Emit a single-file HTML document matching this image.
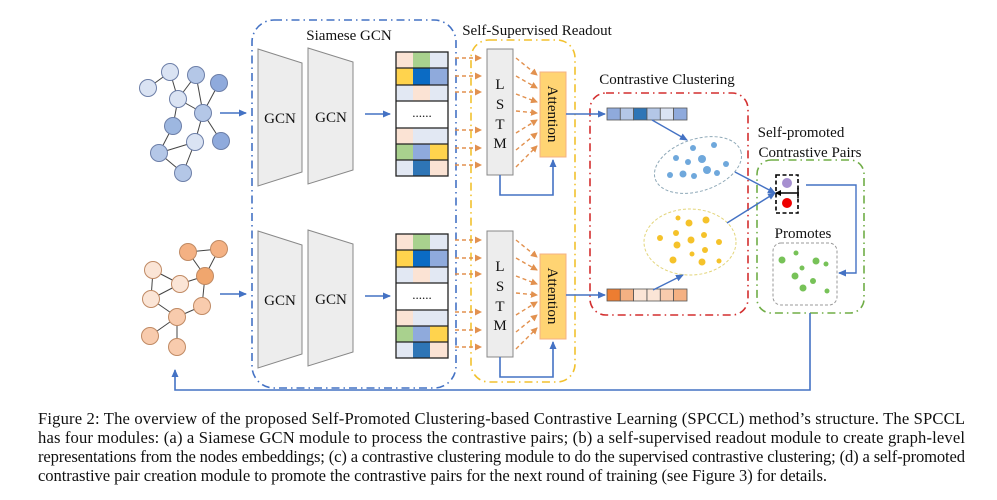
<!DOCTYPE html>
<html><head><meta charset="utf-8"><style>
html,body{margin:0;padding:0;background:#fff;width:997px;height:500px;overflow:hidden}
svg{display:block}
text{font-family:"Liberation Serif",serif;fill:#111}
</style></head><body>
<svg width="997" height="500" viewBox="0 0 997 500" xmlns="http://www.w3.org/2000/svg">
<defs>
<marker id="ab" markerWidth="8" markerHeight="8" refX="7" refY="4" orient="auto" markerUnits="userSpaceOnUse"><path d="M0,0.5 L8,4 L0,7.5 Z" fill="#4472c4"/></marker>
<marker id="ao" markerWidth="7" markerHeight="7" refX="6" refY="3.5" orient="auto" markerUnits="userSpaceOnUse"><path d="M0,0 L7,3.5 L0,7 Z" fill="#e2914f"/></marker>
<marker id="ak" markerWidth="6" markerHeight="6" refX="5" refY="3" orient="auto" markerUnits="userSpaceOnUse"><path d="M0,0 L6,3 L0,6 Z" fill="#000"/></marker>
</defs>

<rect x="252" y="20" width="204" height="368" rx="22" fill="none" stroke="#4472c4" stroke-width="1.6" stroke-dasharray="8,4,1.5,4"/>
<rect x="471" y="40" width="104" height="342" rx="18" fill="none" stroke="#f2c12e" stroke-width="1.6" stroke-dasharray="8,4,1.5,4"/>
<rect x="590" y="93" width="158" height="222" rx="16" fill="none" stroke="#d32f2f" stroke-width="1.6" stroke-dasharray="8,4,1.5,4"/>
<rect x="757" y="160" width="107" height="153" rx="14" fill="none" stroke="#70ad47" stroke-width="1.6" stroke-dasharray="8,4,1.5,4"/>

<text x="349" y="40" font-size="15" text-anchor="middle">Siamese GCN</text>
<text x="537" y="35" font-size="15" text-anchor="middle">Self-Supervised Readout</text>
<text x="667" y="84" font-size="15" text-anchor="middle">Contrastive Clustering</text>
<text x="801" y="137" font-size="15" text-anchor="middle">Self-promoted</text>
<text x="810" y="157" font-size="15" text-anchor="middle">Contrastive Pairs</text>

<g stroke="#444" stroke-width="1">
<line x1="148" y1="88" x2="170" y2="72"/><line x1="170" y1="72" x2="178" y2="99"/><line x1="196" y1="75" x2="178" y2="99"/>
<line x1="196" y1="75" x2="203" y2="113"/><line x1="219" y1="83" x2="203" y2="113"/><line x1="178" y1="99" x2="203" y2="113"/>
<line x1="178" y1="99" x2="173" y2="126"/><line x1="203" y1="113" x2="195" y2="142"/><line x1="203" y1="113" x2="221" y2="141"/>
<line x1="173" y1="126" x2="159" y2="153"/><line x1="195" y1="142" x2="159" y2="153"/><line x1="159" y1="153" x2="183" y2="173"/><line x1="195" y1="142" x2="183" y2="173"/>
</g>
<g stroke="#6d7fa8" stroke-width="1">
<circle cx="148" cy="88" r="8.5" fill="#dae3f3"/><circle cx="170" cy="72" r="8.5" fill="#dae3f3"/><circle cx="196" cy="75" r="8.5" fill="#b4c7e7"/>
<circle cx="219" cy="83" r="8.5" fill="#8faadc"/><circle cx="178" cy="99" r="8.5" fill="#dae3f3"/><circle cx="203" cy="113" r="8.5" fill="#b4c7e7"/>
<circle cx="173" cy="126" r="8.5" fill="#9db7e0"/><circle cx="195" cy="142" r="8.5" fill="#dae3f3"/><circle cx="221" cy="141" r="8.5" fill="#8faadc"/>
<circle cx="159" cy="153" r="8.5" fill="#b4c7e7"/><circle cx="183" cy="173" r="8.5" fill="#b4c7e7"/>
</g>

<g stroke="#444" stroke-width="1">
<line x1="188" y1="252" x2="219" y2="249"/><line x1="188" y1="252" x2="205" y2="276"/><line x1="219" y1="249" x2="205" y2="276"/>
<line x1="153" y1="270" x2="180" y2="284"/><line x1="153" y1="270" x2="151" y2="299"/><line x1="180" y1="284" x2="205" y2="276"/>
<line x1="180" y1="284" x2="151" y2="299"/><line x1="205" y1="276" x2="202" y2="306"/><line x1="151" y1="299" x2="177" y2="317"/>
<line x1="202" y1="306" x2="177" y2="317"/><line x1="177" y1="317" x2="150" y2="336"/><line x1="177" y1="317" x2="177" y2="347"/>
</g>
<g stroke="#c08a64" stroke-width="1">
<circle cx="153" cy="270" r="8.5" fill="#fbe5d6"/><circle cx="188" cy="252" r="8.5" fill="#f4b183"/><circle cx="219" cy="249" r="8.5" fill="#f4b183"/>
<circle cx="205" cy="276" r="8.5" fill="#f0a66e"/><circle cx="180" cy="284" r="8.5" fill="#fbe5d6"/><circle cx="151" cy="299" r="8.5" fill="#fbe5d6"/>
<circle cx="202" cy="306" r="8.5" fill="#f8cbad"/><circle cx="177" cy="317" r="8.5" fill="#f8cbad"/><circle cx="150" cy="336" r="8.5" fill="#f8cbad"/>
<circle cx="177" cy="347" r="8.5" fill="#f8cbad"/>
</g>

<line x1="220" y1="113" x2="246" y2="113" stroke="#4472c4" stroke-width="1.6" marker-end="url(#ab)"/>
<line x1="220" y1="294" x2="246" y2="294" stroke="#4472c4" stroke-width="1.6" marker-end="url(#ab)"/>

<g>
<polygon points="258,49 302,63 302,172 258,186" fill="#ededed" stroke="#888" stroke-width="1"/>
<polygon points="308,48 353,62 353,170 308,184" fill="#ededed" stroke="#888" stroke-width="1"/>
<text x="280" y="123" font-size="15" text-anchor="middle">GCN</text>
<text x="331" y="122" font-size="15" text-anchor="middle">GCN</text>
<line x1="365" y1="114" x2="390" y2="114" stroke="#4472c4" stroke-width="1.6" marker-end="url(#ab)"/>
<g stroke="none">
<rect x="396" y="52" width="17" height="16" fill="#fbe3d4"/><rect x="413" y="52" width="17" height="16" fill="#a9d18e"/><rect x="430" y="52" width="18" height="16" fill="#e2e8f3"/>
<rect x="396" y="68" width="17" height="17" fill="#ffd34d"/><rect x="413" y="68" width="17" height="17" fill="#0b6bc4"/><rect x="430" y="68" width="18" height="17" fill="#8faadc"/>
<rect x="396" y="85" width="17" height="16" fill="#e2e8f3"/><rect x="413" y="85" width="17" height="16" fill="#fbe3d4"/><rect x="430" y="85" width="18" height="16" fill="#e2e8f3"/>
<rect x="396" y="128" width="17" height="16" fill="#fbe3d4"/><rect x="413" y="128" width="17" height="16" fill="#e2e8f3"/><rect x="430" y="128" width="18" height="16" fill="#e2e8f3"/>
<rect x="396" y="144" width="17" height="16" fill="#a9d18e"/><rect x="413" y="144" width="17" height="16" fill="#8faadc"/><rect x="430" y="144" width="18" height="16" fill="#ffd34d"/>
<rect x="396" y="160" width="17" height="16" fill="#e2e8f3"/><rect x="413" y="160" width="17" height="16" fill="#2e75b6"/><rect x="430" y="160" width="18" height="16" fill="#fbe3d4"/>
</g>
<g stroke="#222" stroke-width="1.3" fill="none">
<rect x="396" y="52" width="52" height="124"/>
<line x1="396" y1="68" x2="448" y2="68"/><line x1="396" y1="85" x2="448" y2="85"/><line x1="396" y1="101" x2="448" y2="101"/>
<line x1="396" y1="128" x2="448" y2="128"/><line x1="396" y1="144" x2="448" y2="144"/><line x1="396" y1="160" x2="448" y2="160"/>
</g>
<text x="422" y="117" font-size="13" text-anchor="middle">......</text>
<g stroke="#e2914f" stroke-width="1.4" stroke-dasharray="4,3" marker-end="url(#ao)">
<line x1="455" y1="58" x2="481" y2="58"/><line x1="455" y1="76" x2="481" y2="76"/><line x1="455" y1="92" x2="481" y2="92"/>
<line x1="455" y1="130" x2="481" y2="130"/><line x1="455" y1="148" x2="481" y2="148"/><line x1="455" y1="165" x2="481" y2="165"/>
</g>
<rect x="487" y="49" width="26" height="126" fill="#ededed" stroke="#888" stroke-width="1"/>
<text x="500" y="89" font-size="15" text-anchor="middle">L</text>
<text x="500" y="109" font-size="15" text-anchor="middle">S</text>
<text x="500" y="129" font-size="15" text-anchor="middle">T</text>
<text x="500" y="148" font-size="15" text-anchor="middle">M</text>
<g stroke="#e2914f" stroke-width="1.4" stroke-dasharray="4,3" marker-end="url(#ao)">
<line x1="516" y1="58" x2="537" y2="75"/><line x1="516" y1="76" x2="537" y2="88"/><line x1="516" y1="94" x2="537" y2="102"/>
<line x1="516" y1="111" x2="537" y2="113"/><line x1="516" y1="133" x2="537" y2="120"/><line x1="516" y1="150" x2="537" y2="133"/>
<line x1="516" y1="167" x2="537" y2="146"/>
</g>
<rect x="540" y="72" width="26" height="85" fill="#ffd473" stroke="#f4b183" stroke-width="1"/>
<text x="0" y="0" font-size="15" text-anchor="middle" transform="translate(548,114) rotate(90)">Attention</text>
<polyline points="500,175 500,195 553,195 553,160" fill="none" stroke="#4472c4" stroke-width="1.6" marker-end="url(#ab)"/>
</g>
<g transform="translate(0,182)">
<polygon points="258,49 302,63 302,172 258,186" fill="#ededed" stroke="#888" stroke-width="1"/>
<polygon points="308,48 353,62 353,170 308,184" fill="#ededed" stroke="#888" stroke-width="1"/>
<text x="280" y="123" font-size="15" text-anchor="middle">GCN</text>
<text x="331" y="122" font-size="15" text-anchor="middle">GCN</text>
<line x1="365" y1="114" x2="390" y2="114" stroke="#4472c4" stroke-width="1.6" marker-end="url(#ab)"/>
<g stroke="none">
<rect x="396" y="52" width="17" height="16" fill="#fbe3d4"/><rect x="413" y="52" width="17" height="16" fill="#a9d18e"/><rect x="430" y="52" width="18" height="16" fill="#e2e8f3"/>
<rect x="396" y="68" width="17" height="17" fill="#ffd34d"/><rect x="413" y="68" width="17" height="17" fill="#0b6bc4"/><rect x="430" y="68" width="18" height="17" fill="#8faadc"/>
<rect x="396" y="85" width="17" height="16" fill="#e2e8f3"/><rect x="413" y="85" width="17" height="16" fill="#fbe3d4"/><rect x="430" y="85" width="18" height="16" fill="#e2e8f3"/>
<rect x="396" y="128" width="17" height="16" fill="#fbe3d4"/><rect x="413" y="128" width="17" height="16" fill="#e2e8f3"/><rect x="430" y="128" width="18" height="16" fill="#e2e8f3"/>
<rect x="396" y="144" width="17" height="16" fill="#a9d18e"/><rect x="413" y="144" width="17" height="16" fill="#8faadc"/><rect x="430" y="144" width="18" height="16" fill="#ffd34d"/>
<rect x="396" y="160" width="17" height="16" fill="#e2e8f3"/><rect x="413" y="160" width="17" height="16" fill="#2e75b6"/><rect x="430" y="160" width="18" height="16" fill="#fbe3d4"/>
</g>
<g stroke="#222" stroke-width="1.3" fill="none">
<rect x="396" y="52" width="52" height="124"/>
<line x1="396" y1="68" x2="448" y2="68"/><line x1="396" y1="85" x2="448" y2="85"/><line x1="396" y1="101" x2="448" y2="101"/>
<line x1="396" y1="128" x2="448" y2="128"/><line x1="396" y1="144" x2="448" y2="144"/><line x1="396" y1="160" x2="448" y2="160"/>
</g>
<text x="422" y="117" font-size="13" text-anchor="middle">......</text>
<g stroke="#e2914f" stroke-width="1.4" stroke-dasharray="4,3" marker-end="url(#ao)">
<line x1="455" y1="58" x2="481" y2="58"/><line x1="455" y1="76" x2="481" y2="76"/><line x1="455" y1="92" x2="481" y2="92"/>
<line x1="455" y1="130" x2="481" y2="130"/><line x1="455" y1="148" x2="481" y2="148"/><line x1="455" y1="165" x2="481" y2="165"/>
</g>
<rect x="487" y="49" width="26" height="126" fill="#ededed" stroke="#888" stroke-width="1"/>
<text x="500" y="89" font-size="15" text-anchor="middle">L</text>
<text x="500" y="109" font-size="15" text-anchor="middle">S</text>
<text x="500" y="129" font-size="15" text-anchor="middle">T</text>
<text x="500" y="148" font-size="15" text-anchor="middle">M</text>
<g stroke="#e2914f" stroke-width="1.4" stroke-dasharray="4,3" marker-end="url(#ao)">
<line x1="516" y1="58" x2="537" y2="75"/><line x1="516" y1="76" x2="537" y2="88"/><line x1="516" y1="94" x2="537" y2="102"/>
<line x1="516" y1="111" x2="537" y2="113"/><line x1="516" y1="133" x2="537" y2="120"/><line x1="516" y1="150" x2="537" y2="133"/>
<line x1="516" y1="167" x2="537" y2="146"/>
</g>
<rect x="540" y="72" width="26" height="85" fill="#ffd473" stroke="#f4b183" stroke-width="1"/>
<text x="0" y="0" font-size="15" text-anchor="middle" transform="translate(548,114) rotate(90)">Attention</text>
<polyline points="500,175 500,195 553,195 553,160" fill="none" stroke="#4472c4" stroke-width="1.6" marker-end="url(#ab)"/>
</g>

<line x1="566" y1="114" x2="605" y2="114" stroke="#4472c4" stroke-width="1.6" marker-end="url(#ab)"/>
<line x1="566" y1="295" x2="605" y2="295" stroke="#4472c4" stroke-width="1.6" marker-end="url(#ab)"/>

<g stroke="#555" stroke-width="0.8">
<rect x="607" y="108" width="13.3" height="12" fill="#8faadc"/><rect x="620.3" y="108" width="13.3" height="12" fill="#b4c7e7"/><rect x="633.6" y="108" width="13.3" height="12" fill="#2e75b6"/>
<rect x="647" y="108" width="13.3" height="12" fill="#b4c7e7"/><rect x="660.3" y="108" width="13.3" height="12" fill="#dae3f3"/><rect x="673.6" y="108" width="13.4" height="12" fill="#8faadc"/>
<rect x="607" y="289" width="13.3" height="12" fill="#ed7d31"/><rect x="620.3" y="289" width="13.3" height="12" fill="#f4b183"/><rect x="633.6" y="289" width="13.3" height="12" fill="#fbe5d6"/>
<rect x="647" y="289" width="13.3" height="12" fill="#fbe5d6"/><rect x="660.3" y="289" width="13.3" height="12" fill="#f8cbad"/><rect x="673.6" y="289" width="13.4" height="12" fill="#f4b183"/>
</g>

<ellipse cx="698" cy="165" rx="45" ry="26" transform="rotate(-18 698 165)" fill="none" stroke="#8fa9b8" stroke-width="1" stroke-dasharray="3,2"/>
<ellipse cx="690" cy="242" rx="46" ry="33" fill="none" stroke="#e3d57a" stroke-width="1" stroke-dasharray="3,2"/>
<g fill="#6fa8dc">
<circle cx="693" cy="148" r="3"/><circle cx="714" cy="145" r="3"/><circle cx="676" cy="158" r="3"/><circle cx="688" cy="162" r="3"/>
<circle cx="702" cy="159" r="4"/><circle cx="726" cy="164" r="3"/><circle cx="670" cy="175" r="3"/><circle cx="683" cy="174" r="3.5"/>
<circle cx="694" cy="176" r="3"/><circle cx="707" cy="170" r="4"/><circle cx="717" cy="173" r="3"/>
</g>
<g fill="#f5c22a">
<circle cx="678" cy="218" r="2.5"/><circle cx="689" cy="223" r="3.5"/><circle cx="706" cy="220" r="3.5"/><circle cx="676" cy="233" r="3"/>
<circle cx="691" cy="240" r="3.5"/><circle cx="704" cy="235" r="3"/><circle cx="660" cy="238" r="3"/><circle cx="719" cy="242" r="3"/>
<circle cx="677" cy="245" r="3.5"/><circle cx="705" cy="250" r="3"/><circle cx="692" cy="254" r="2.5"/><circle cx="673" cy="260" r="3.5"/>
<circle cx="702" cy="262" r="3.5"/><circle cx="719" cy="261" r="2.5"/>
</g>
<line x1="652" y1="120" x2="687" y2="140" stroke="#4472c4" stroke-width="1.4" marker-end="url(#ab)"/>
<line x1="653" y1="290" x2="683" y2="275" stroke="#4472c4" stroke-width="1.4" marker-end="url(#ab)"/>
<line x1="735" y1="172" x2="775" y2="193" stroke="#4472c4" stroke-width="1.4" marker-end="url(#ab)"/>
<line x1="727" y1="223" x2="775" y2="193" stroke="#4472c4" stroke-width="1.4" marker-end="url(#ab)"/>

<rect x="776" y="175" width="22" height="38" fill="#fff" stroke="#000" stroke-width="1.6" stroke-dasharray="4,2.5"/>
<circle cx="787" cy="183" r="5" fill="#a68fd0"/>
<circle cx="787" cy="203" r="5" fill="#ee0000"/>
<line x1="780" y1="193" x2="797" y2="193" stroke="#000" stroke-width="1.5"/>
<line x1="798" y1="188" x2="798" y2="198" stroke="#000" stroke-width="1.5"/>
<line x1="781" y1="193" x2="776" y2="193" stroke="#000" stroke-width="1.5" marker-end="url(#ak)"/>
<polyline points="806,185 856,185 856,273 839,273" fill="none" stroke="#4472c4" stroke-width="1.4" marker-end="url(#ab)"/>
<text x="803" y="238" font-size="15" text-anchor="middle">Promotes</text>
<rect x="773" y="243" width="64" height="62" rx="8" fill="none" stroke="#999" stroke-width="1" stroke-dasharray="3,2"/>
<g fill="#77c258">
<circle cx="796" cy="253" r="2.5"/><circle cx="782" cy="260" r="3.5"/><circle cx="816" cy="261" r="3.5"/><circle cx="826" cy="264" r="2.5"/>
<circle cx="802" cy="268" r="2.5"/><circle cx="795" cy="276" r="3.5"/><circle cx="813" cy="281" r="3"/><circle cx="803" cy="288" r="3.5"/>
<circle cx="827" cy="291" r="2.5"/>
</g>

<polyline points="810,313 810,390 175,390 175,370" fill="none" stroke="#4472c4" stroke-width="1.6" marker-end="url(#ab)"/>

<g font-size="16.6">
<text x="38" y="424" textLength="927" lengthAdjust="spacing">Figure 2: The overview of the proposed Self-Promoted Clustering-based Contrastive Learning (SPCCL) method’s structure. The SPCCL</text>
<text x="38" y="443" textLength="927" lengthAdjust="spacing">has four modules: (a) a Siamese GCN module to process the contrastive pairs; (b) a self-supervised readout module to create graph-level</text>
<text x="38" y="462" textLength="927" lengthAdjust="spacing">representations from the nodes embeddings; (c) a contrastive clustering module to do the supervised contrastive clustering; (d) a self-promoted</text>
<text x="38" y="481" textLength="789" lengthAdjust="spacing">contrastive pair creation module to promote the contrastive pairs for the next round of training (see Figure 3) for details.</text>
</g>
</svg>
</body></html>
